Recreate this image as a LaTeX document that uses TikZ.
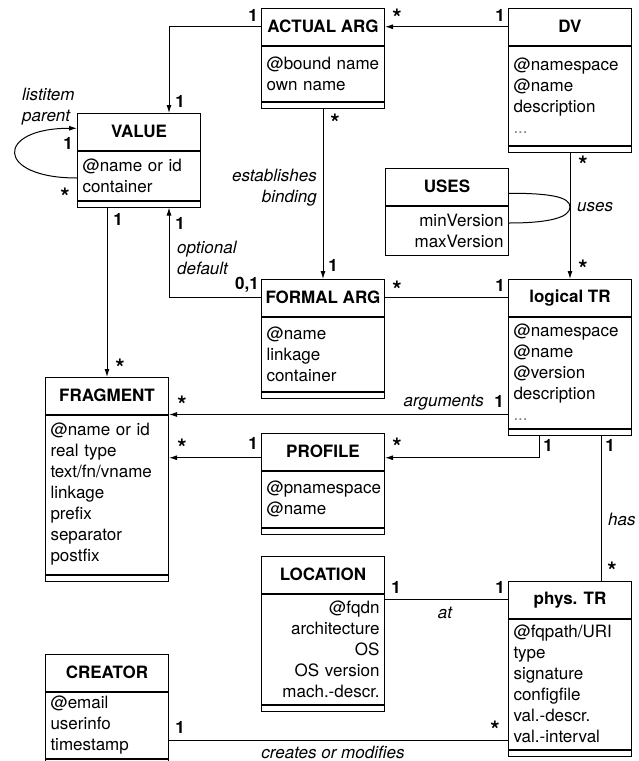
\documentclass[tikz,border=0pt]{standalone}
\usepackage{fontspec}
\setmainfont{TeX Gyre Heros}
\usetikzlibrary{shapes,arrows.meta,positioning,calc}

\tikzset{
  cls/.style={draw, line width=1pt, minimum width=123pt, inner sep=0pt},
  head/.style={cls, minimum height=36.5pt, font=\bfseries},
  attrs/.style={cls, text width=113pt, inner xsep=5pt, align=left},
  rattrs/.style={attrs, align=right},
  foot/.style={cls, minimum height=6pt},
  mult/.style={font=\bfseries, inner sep=0pt},
  many/.style={inner sep=0pt, yshift=-5pt, font=\fontsize{24}{24}\selectfont\bfseries},
  role/.style={font=\itshape, inner sep=0pt},
  assoc/.style={line width=1pt},
  nav/.style={assoc, -{Latex[length=8pt,width=5pt]}},
}

\begin{document}
\begin{tikzpicture}[x=1pt, y=-1pt]
  \fontsize{17}{21}\selectfont
  \useasboundingbox (0,0) rectangle (639,761);

  % classes
  \node[head, anchor=north west] (actual) at (261,8) {ACTUAL ARG};
  \node[attrs, minimum height=55pt, below=0pt of actual] (actual-a) {@bound name\\own name};
  \node[foot, below=0pt of actual-a] (actual-f) {};

  \node[head, anchor=north west] (dv) at (508,8) {DV};
  \node[attrs, minimum height=99pt, below=0pt of dv] (dv-a) {@namespace\\@name\\description\\{\color{gray}...}};
  \node[foot, below=0pt of dv-a] (dv-f) {};

  \node[head, anchor=north west] (value) at (77,113) {VALUE};
  \node[attrs, minimum height=49pt, below=0pt of value] (value-a) {@name or id\\container};
  \node[foot, below=0pt of value-a] (value-f) {};

  \node[head, anchor=north west] (uses) at (385,168) {USES};
  \node[rattrs, minimum height=49pt, below=0pt of uses] (uses-a) {minVersion\\maxVersion};

  \node[head, anchor=north west] (formal) at (261,279) {FORMAL ARG};
  \node[attrs, minimum height=74pt, below=0pt of formal] (formal-a) {@name\\linkage\\container};
  \node[foot, below=0pt of formal-a] (formal-f) {};

  \node[head, anchor=north west] (ltr) at (508,279) {logical TR};
  \node[attrs, minimum height=111pt, below=0pt of ltr] (ltr-a) {@namespace\\@name\\@version\\description\\{\color{gray}...}};
  \node[foot, below=0pt of ltr-a] (ltr-f) {};

  \node[head, anchor=north west] (frag) at (45,377) {FRAGMENT};
  \node[attrs, minimum height=159pt, below=0pt of frag] (frag-a) {@name or id\\real type\\text/fn/vname\\linkage\\prefix\\separator\\postfix};
  \node[foot, below=0pt of frag-a] (frag-f) {};

  \node[head, anchor=north west] (profile) at (261,433) {PROFILE};
  \node[attrs, minimum height=56pt, below=0pt of profile] (profile-a) {@pnamespace\\@name};
  \node[foot, below=0pt of profile-a] (profile-f) {};

  \node[head, anchor=north west] (location) at (261,556) {LOCATION};
  \node[rattrs, minimum height=110pt, below=0pt of location] (location-a) {@fqdn\\architecture\\OS\\OS version\\mach.-descr.};
  \node[foot, below=0pt of location-a] (location-f) {};

  \node[head, anchor=north west] (phys) at (508,581) {phys. TR};
  \node[attrs, minimum height=130pt, below=0pt of phys] (phys-a) {@fqpath/URI\\type\\signature\\configfile\\val.-descr.\\val.-interval};
  \node[foot, below=0pt of phys-a] (phys-f) {};

  \node[head, anchor=north west] (creator) at (45,654) {CREATOR};
  \node[attrs, minimum height=66pt, below=0pt of creator] (creator-a) {@email\\userinfo\\timestamp};
  \node[foot, below=0pt of creator-a] (creator-f) {};

  % connectors
  \coordinate (ltr-p) at ($(ltr-f.south west)!.25!(ltr-f.south east)$);
  \coordinate (ltr-h) at ($(ltr-f.south west)!.75!(ltr-f.south east)$);
  \coordinate (uses-pt) at (dv-f.south |- 0,207);

  \draw[nav] (actual.west) -| (value.north -| frag.east);
  \draw[nav] (dv.west) -- (actual.east);
  \draw[nav] (actual-f.south) -- (formal.north);
  \draw[nav] (formal.west) -| (value-f.south -| frag.east);
  \draw[assoc] (formal.east) -- (ltr.west);
  \draw[nav] (dv-f.south) -- (ltr.north);
  \draw[assoc] ([yshift=-6.5pt]uses.east) .. controls +(42,0) and +(0,-10) .. (uses-pt)
    .. controls +(0,10) and +(42,0) .. ([yshift=7.5pt]uses-a.east);
  \draw[nav] ([yshift=-2.5pt]value-a.west) to[out=180, in=180, distance=82pt] ([yshift=3.5pt]value.west);
  \draw[nav] (value-f.south -| frag.north) -- (frag.north);
  \draw[nav] (ltr-a.west |- frag.south east) -- (frag.south east);
  \draw[nav] (ltr-p) |- ([yshift=-6pt]profile.east);
  \draw[nav] ([yshift=-6pt]profile.west) -- ([yshift=-6pt]profile.west -| frag-a.east);
  \draw[assoc] (ltr-h) -- (ltr-h |- phys.north);
  \draw[assoc] (phys.west) -- (phys.west -| location.east);
  \draw[assoc] ([yshift=-15pt]creator-a.east) -- ([yshift=-15pt]creator-a.east -| phys-a.west);

  % multiplicities and roles
  \node[mult] (m1) at (253,15) {1};
  \node[mult] (m2) at (180,101) {1};
  \node[many] (m3) at (397,13) {*};
  \node[mult] (m4) at (500,15) {1};
  \node[many] (m5) at (335,118) {*};
  \node[mult] (m6) at (333,265) {1};
  \node[role, align=right, anchor=north east] (r1) at (317,169) {establishes\\binding};
  \node[role, align=left, anchor=north west] (r2) at (22,88) {listitem\\parent};
  \node[mult] (m7) at (68,143) {1};
  \node[many] (m8) at (65,192) {*};
  \node[mult] (m9) at (118,219) {1};
  \node[many] (m10) at (120,363) {*};
  \node[mult] (m11) at (180,223) {1};
  \node[role, align=left, anchor=north west] (r3) at (177,241) {optional\\default};
  \node[mult] (m12) at (247,285) {0,1};
  \node[many] (m13) at (397,285) {*};
  \node[mult] (m14) at (500,285) {1};
  \node[many] (m15) at (583,160) {*};
  \node[many] (m16) at (583,264) {*};
  \node[role, anchor=west] (r4) at (577,207) {uses};
  \node[many] (m17) at (182,400) {*};
  \node[role, anchor=east] (r5) at (484,403) {arguments};
  \node[mult] (m18) at (499,401) {1};
  \node[many] (m19) at (182,443) {*};
  \node[mult] (m20) at (253,443) {1};
  \node[many] (m21) at (397,442) {*};
  \node[mult] (m22) at (548,445) {1};
  \node[mult] (m23) at (610,445) {1};
  \node[role, anchor=west] (r6) at (608,519) {has};
  \node[many] (m24) at (612,566) {*};
  \node[mult] (m25) at (396,587) {1};
  \node[mult] (m26) at (500,587) {1};
  \node[role] (r7) at (445,613) {at};
  \node[mult] (m27) at (180,727) {1};
  \node[many] (m28) at (495,725) {*};
  \node[role] (r8) at (333,752) {creates or modifies};
\end{tikzpicture}
\end{document}
